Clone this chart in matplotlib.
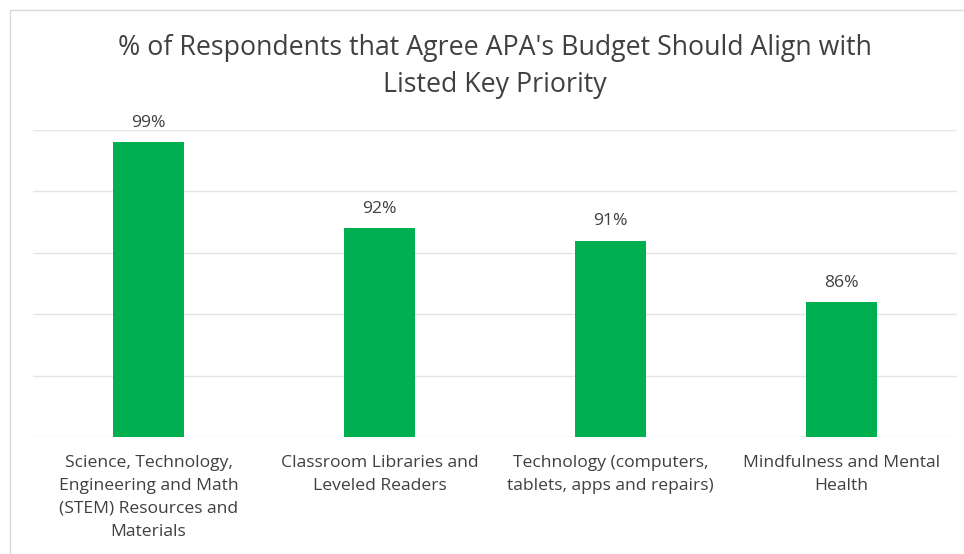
import numpy as np
import matplotlib.pyplot as plt
from matplotlib.patches import Rectangle

# data
categories = [
    "Science, Technology,\nEngineering and Math\n(STEM) Resources and\nMaterials",
    "Classroom Libraries and\nLeveled Readers",
    "Technology (computers,\ntablets, apps and repairs)",
    "Mindfulness and Mental\nHealth",
]
values = [99, 92, 91, 86]
title = "% of Respondents that Agree APA's Budget Should Align with\nListed Key Priority"

bar_color = '#00b050'
text_color = '#404040'
grid_color = '#e4e4e4'

plt.rcParams['font.family'] = ['Open Sans', 'DejaVu Sans']

fig = plt.figure(figsize=(9.64, 5.54), dpi=100)

# chart frame
fig.patches.append(Rectangle((10 / 964, -0.01), 1.0, (554 - 10) / 554 + 0.01,
                             transform=fig.transFigure, facecolor='none',
                             edgecolor='#d9d9d9', linewidth=1.0))

ax = fig.add_axes([33 / 964, (554 - 437) / 554, (957 - 33) / 964, (437 - 130) / 554])
x = np.arange(len(categories))
bars = ax.bar(x, values, width=0.31, color=bar_color, zorder=2)

ax.set_ylim(75, 100)
ax.set_xlim(-0.5, len(categories) - 0.5)
ax.set_yticks(np.arange(75, 101, 5))
ax.yaxis.grid(True, color=grid_color, linewidth=1.0, zorder=0)
ax.tick_params(axis='y', left=False, labelleft=False)
ax.tick_params(axis='x', length=0, pad=13, labelsize=12.6, labelcolor=text_color)
ax.set_xticks(x)
ax.set_xticklabels(categories, linespacing=1.58)
for s in ax.spines.values():
    s.set_visible(False)

for xi, v in zip(x, values):
    ax.annotate(f"{v}%", (xi, v), xytext=(0, 8), textcoords='offset points',
                ha='center', va='bottom', fontsize=12.6, color=text_color)

fig.text(495 / 964, 1 - 66.5 / 554, title, ha='center', va='center',
         fontsize=19.3, color=text_color, linespacing=1.45)

fig.savefig('out.png', dpi=100)
